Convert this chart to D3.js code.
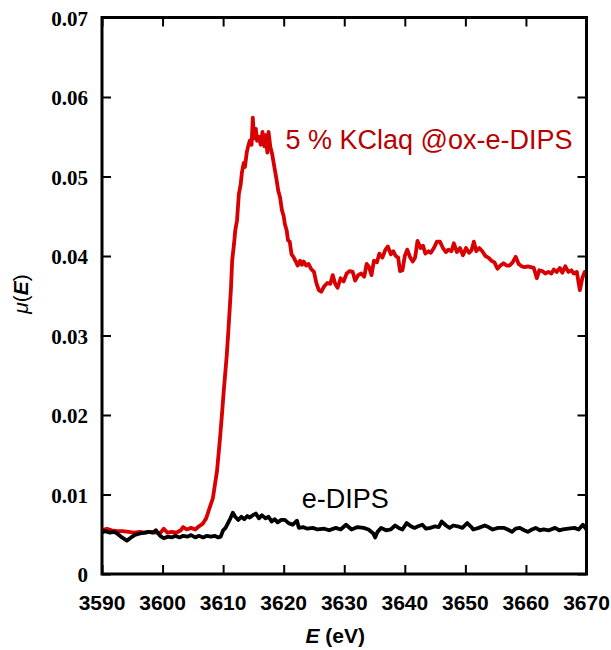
<!DOCTYPE html>
<html>
<head>
<meta charset="utf-8">
<script src="https://cdn.jsdelivr.net/npm/d3@7"></script>
<style>
  html, body { margin: 0; padding: 0; background: #fff; overflow: hidden; }
  svg { display: block; }
</style>
</head>
<body>
<script>

// tick values
var xTicks = [3590, 3600, 3610, 3620, 3630, 3640, 3650, 3660, 3670];
var yTicks = [0, 0.01, 0.02, 0.03, 0.04, 0.05, 0.06, 0.07];
var yTickLabels = ["0", "0.01", "0.02", "0.03", "0.04", "0.05", "0.06", "0.07"];

// series labels
var seriesNames = ["5 % KClaq @ox-e-DIPS", "e-DIPS"];

// [E (eV), mu(E)]
var kclData = [
  [3590.0,0.0055],[3590.8,0.0057],[3591.6,0.0055],[3592.5,0.0054],[3593.4,0.0054],[3594.4,0.0053],
  [3595.3,0.0052],[3596.2,0.0053],[3597.1,0.0052],[3598.0,0.0053],[3598.9,0.0052],[3599.6,0.0051],
  [3600.2,0.0057],[3600.8,0.0052],[3601.5,0.0053],[3602.3,0.0052],[3603.0,0.0055],[3603.4,0.0059],
  [3604.0,0.0056],[3604.7,0.0058],[3605.4,0.0056],[3606.0,0.0060],[3606.6,0.0063],[3607.2,0.0070],
  [3607.8,0.0084],[3608.3,0.0095],[3608.6,0.0110],[3609.0,0.0130],[3609.3,0.0155],[3609.5,0.0172],
  [3609.8,0.0200],[3610.1,0.0230],[3610.3,0.0248],[3610.6,0.0275],[3610.8,0.0298],[3611.1,0.0335],
  [3611.3,0.0360],[3611.5,0.0395],[3611.8,0.0415],[3612.0,0.0432],[3612.3,0.0445],[3612.6,0.0478],
  [3612.9,0.0490],[3613.1,0.0505],[3613.4,0.0517],[3613.6,0.0512],[3613.9,0.0530],[3614.1,0.0537],
  [3614.4,0.0545],[3614.7,0.0540],[3614.9,0.0574],[3615.1,0.0548],[3615.4,0.0560],[3615.6,0.0545],
  [3615.9,0.0550],[3616.2,0.0540],[3616.5,0.0556],[3616.8,0.0538],[3617.0,0.0552],[3617.3,0.0530],
  [3617.5,0.0556],[3617.8,0.0537],[3618.1,0.0528],[3618.5,0.0510],[3618.8,0.0497],[3619.1,0.0482],
  [3619.4,0.0474],[3619.7,0.0458],[3620.0,0.0450],[3620.2,0.0440],[3620.5,0.0432],[3620.7,0.0420],
  [3621.0,0.0418],[3621.3,0.0402],[3621.6,0.0399],[3622.0,0.0393],[3622.3,0.0388],[3622.7,0.0394],
  [3623.0,0.0389],[3623.3,0.0393],[3623.7,0.0388],[3624.1,0.0390],[3624.5,0.0384],[3625.0,0.0380],
  [3625.4,0.0366],[3625.8,0.0357],[3626.2,0.0355],[3626.7,0.0362],[3627.2,0.0366],[3627.7,0.0365],
  [3628.1,0.0376],[3628.5,0.0365],[3628.9,0.0360],[3629.4,0.0372],[3629.9,0.0368],[3630.4,0.0378],
  [3630.9,0.0381],[3631.4,0.0380],[3631.8,0.0369],[3632.3,0.0376],[3632.8,0.0378],[3633.3,0.0374],
  [3633.7,0.0390],[3634.1,0.0386],[3634.5,0.0376],[3634.9,0.0394],[3635.4,0.0392],[3635.8,0.0403],
  [3636.3,0.0398],[3636.8,0.0408],[3637.2,0.0412],[3637.7,0.0402],[3638.1,0.0406],[3638.5,0.0400],
  [3638.9,0.0398],[3639.2,0.0381],[3639.6,0.0382],[3640.0,0.0400],[3640.4,0.0408],[3640.9,0.0398],
  [3641.3,0.0393],[3641.7,0.0398],[3642.1,0.0419],[3642.6,0.0410],[3643.0,0.0413],[3643.4,0.0403],
  [3643.9,0.0406],[3644.3,0.0404],[3644.8,0.0410],[3645.3,0.0418],[3645.8,0.0418],[3646.3,0.0410],
  [3646.8,0.0405],[3647.2,0.0408],[3647.7,0.0406],[3648.1,0.0416],[3648.6,0.0405],[3649.1,0.0410],
  [3649.6,0.0401],[3650.1,0.0410],[3650.6,0.0404],[3651.0,0.0407],[3651.4,0.0418],[3651.8,0.0406],
  [3652.3,0.0410],[3652.8,0.0406],[3653.3,0.0400],[3653.8,0.0398],[3654.3,0.0394],[3654.8,0.0392],
  [3655.3,0.0384],[3655.8,0.0388],[3656.3,0.0391],[3656.8,0.0388],[3657.3,0.0388],[3657.8,0.0392],
  [3658.3,0.0399],[3658.8,0.0390],[3659.3,0.0387],[3659.8,0.0386],[3660.3,0.0387],[3660.8,0.0386],
  [3661.3,0.0385],[3661.8,0.0372],[3662.2,0.0382],[3662.7,0.0381],[3663.2,0.0378],[3663.7,0.0380],
  [3664.2,0.0378],[3664.6,0.0383],[3665.1,0.0380],[3665.6,0.0385],[3666.0,0.0379],[3666.5,0.0387],
  [3667.0,0.0380],[3667.5,0.0382],[3667.9,0.0378],[3668.4,0.0380],[3668.9,0.0357],[3669.3,0.0372],
  [3669.7,0.0380],[3670.0,0.0378]
];

var dipsData = [
  [3590.0,0.0052],[3590.5,0.0054],[3591.3,0.0052],[3592.0,0.0053],[3592.5,0.0051],[3593.3,0.0046],
  [3594.1,0.0042],[3594.8,0.0046],[3595.4,0.0049],[3596.3,0.0051],[3597.1,0.0052],[3597.6,0.0053],
  [3598.4,0.0052],[3598.9,0.0055],[3599.6,0.0048],[3600.2,0.0045],[3600.9,0.0047],[3601.5,0.0046],
  [3602.1,0.0048],[3602.8,0.0046],[3603.4,0.0048],[3604.1,0.0047],[3604.7,0.0049],[3605.4,0.0046],
  [3606.0,0.0048],[3606.7,0.0046],[3607.3,0.0048],[3608.0,0.0047],[3608.6,0.0048],[3609.2,0.0046],
  [3609.6,0.0047],[3610.0,0.0055],[3610.4,0.0058],[3610.8,0.0064],[3611.2,0.0070],[3611.6,0.0077],
  [3612.0,0.0072],[3612.5,0.0068],[3613.0,0.0072],[3613.5,0.0069],[3614.0,0.0073],[3614.4,0.0071],
  [3614.9,0.0074],[3615.4,0.0076],[3615.9,0.0070],[3616.4,0.0074],[3617.0,0.0070],[3617.5,0.0072],
  [3618.0,0.0066],[3618.5,0.0069],[3619.0,0.0065],[3619.6,0.0068],[3620.2,0.0068],[3620.8,0.0064],
  [3621.5,0.0062],[3622.2,0.0067],[3622.5,0.0058],[3623.2,0.0059],[3623.9,0.0057],[3624.8,0.0058],
  [3625.6,0.0056],[3626.7,0.0057],[3627.5,0.0055],[3628.6,0.0058],[3629.4,0.0056],[3630.3,0.0062],
  [3631.2,0.0056],[3632.2,0.0059],[3633.2,0.0058],[3634.0,0.0056],[3634.8,0.0051],[3635.1,0.0046],
  [3635.5,0.0053],[3636.1,0.0058],[3636.9,0.0055],[3637.7,0.0056],[3638.4,0.0061],[3639.0,0.0058],
  [3639.6,0.0056],[3640.3,0.0064],[3641.0,0.0060],[3641.6,0.0058],[3642.2,0.0060],[3642.9,0.0062],
  [3643.5,0.0057],[3644.2,0.0058],[3645.0,0.0060],[3645.6,0.0059],[3646.1,0.0066],[3646.8,0.0061],
  [3647.4,0.0058],[3648.0,0.0061],[3648.7,0.0060],[3649.5,0.0058],[3650.3,0.0064],[3651.0,0.0059],
  [3651.3,0.0056],[3652.2,0.0058],[3653.2,0.0061],[3653.8,0.0059],[3654.5,0.0056],[3655.4,0.0058],
  [3656.4,0.0058],[3657.0,0.0056],[3657.7,0.0053],[3658.3,0.0057],[3659.0,0.0058],[3659.7,0.0055],
  [3660.3,0.0053],[3661.0,0.0056],[3661.6,0.0058],[3662.3,0.0055],[3662.9,0.0056],[3663.8,0.0055],
  [3664.8,0.0058],[3665.5,0.0055],[3666.1,0.0056],[3667.0,0.0057],[3668.0,0.0058],[3668.7,0.0056],
  [3669.4,0.0062],[3670.0,0.0056]
];

var width = 611;
var height = 650;

var margin = {
  top: 17.5,
  right: 24.5,
  bottom: 76,
  left: 102
};

var innerWidth = width - margin.left - margin.right;
var innerHeight = height - margin.top - margin.bottom;

var svg = d3.select("body")
          .append("svg")
          .attr("width", width)
          .attr("height", height);

var g = svg
        .append('g')
        .attr('transform', 'translate(' + margin.left + ',' + margin.top + ')');

//Construct scales (page coordinates, used by texts on the svg)
var xScale = d3.scaleLinear()
              .domain([3590, 3670])
              .range([margin.left, margin.left + innerWidth]);

var yScale = d3.scaleLinear()
              .domain([0, 0.07])
              .range([margin.top + innerHeight, margin.top]);

// inner copies for the plot group
var xInner = xScale.copy().range([0, innerWidth]);
var yInner = yScale.copy().range([innerHeight, 0]);

//clip for the curves
g.append("clipPath")
  .attr("id", "plot-clip")
  .append("rect")
  .attr("width", innerWidth)
  .attr("height", innerHeight);

//inward ticks on all four sides
g.append('g')
  .attr('transform', 'translate(0,' + innerHeight + ')')
  .call(d3.axisBottom(xInner).tickValues(xTicks).tickSize(-9).tickFormat(""));
g.append('g')
  .call(d3.axisTop(xInner).tickValues(xTicks).tickSize(-9).tickFormat(""));
g.append('g')
  .call(d3.axisLeft(yInner).tickValues(yTicks).tickSize(-9).tickFormat(""));
g.append('g')
  .attr('transform', 'translate(' + innerWidth + ',0)')
  .call(d3.axisRight(yInner).tickValues(yTicks).tickSize(-9).tickFormat(""));

g.selectAll('.domain').remove();
g.selectAll('.tick line')
  .attr('stroke', '#000')
  .attr('stroke-width', 2);

//curves
var line = d3.line()
            .x(function(d) { return xInner(d[0]); })
            .y(function(d) { return yInner(d[1]); });

g.append('path')
  .datum(kclData)
  .attr('clip-path', 'url(#plot-clip)')
  .attr('fill', 'none')
  .attr('stroke', '#d80000')
  .attr('stroke-width', 3.8)
  .attr('stroke-linejoin', 'round')
  .attr('d', line);

g.append('path')
  .datum(dipsData)
  .attr('clip-path', 'url(#plot-clip)')
  .attr('fill', 'none')
  .attr('stroke', '#000')
  .attr('stroke-width', 3.8)
  .attr('stroke-linejoin', 'round')
  .attr('d', line);

//frame
g.append('rect')
  .attr('width', innerWidth)
  .attr('height', innerHeight)
  .attr('fill', 'none')
  .attr('stroke', '#000')
  .attr('stroke-width', 3);

//tick labels
svg.selectAll('.xlab')
  .data(xTicks)
  .enter()
  .append('text')
  .attr('class', 'xlab')
  .attr('x', function(d) { return xScale(d); })
  .attr('y', margin.top + innerHeight + 36)
  .attr('text-anchor', 'middle')
  .attr('font-family', 'Liberation Sans, Arial, sans-serif')
  .attr('font-weight', 'bold')
  .style('font-size', '21px')
  .text(function(d) { return d; });

svg.selectAll('.ylab')
  .data(yTicks)
  .enter()
  .append('text')
  .attr('class', 'ylab')
  .attr('x', margin.left - 14)
  .attr('y', function(d) { return yScale(d) + 8; })
  .attr('text-anchor', 'end')
  .attr('font-family', 'Liberation Serif, Times New Roman, serif')
  .attr('font-weight', 'bold')
  .style('font-size', '21px')
  .text(function(d, i) { return yTickLabels[i]; });

//curve labels
svg.append('text')
  .attr('x', xScale(3620.3))
  .attr('y', yScale(0.0535))
  .attr('font-family', 'Liberation Sans, Arial, sans-serif')
  .style('font-size', '27px')
  .attr('fill', '#b80000')
  .text(seriesNames[0]);

svg.append('text')
  .attr('x', xScale(3623.0))
  .attr('y', yScale(0.0083))
  .attr('font-family', 'Liberation Sans, Arial, sans-serif')
  .style('font-size', '27px')
  .attr('fill', '#000')
  .text(seriesNames[1]);

//axis titles
var xTitle = svg.append('text')
  .attr('x', margin.left + innerWidth / 2 - 9)
  .attr('y', margin.top + innerHeight + 69)
  .attr('text-anchor', 'middle')
  .attr('font-family', 'Liberation Sans, Arial, sans-serif')
  .style('font-size', '21px');
xTitle.append('tspan').attr('font-weight', 'bold').attr('font-style', 'italic').text('E');
xTitle.append('tspan').attr('font-weight', 'bold').text(' (eV)');

var yTitle = svg.append('text')
  .attr('transform', 'translate(28,' + 294 + ') rotate(-90)')
  .attr('text-anchor', 'middle')
  .attr('font-family', 'Liberation Sans, Arial, sans-serif')
  .style('font-size', '21px');
yTitle.append('tspan').attr('font-style', 'italic').text('\u03bc');
yTitle.append('tspan').text('(');
yTitle.append('tspan').attr('font-weight', 'bold').attr('font-style', 'italic').text('E');
yTitle.append('tspan').text(')');

</script>
</body>
</html>
